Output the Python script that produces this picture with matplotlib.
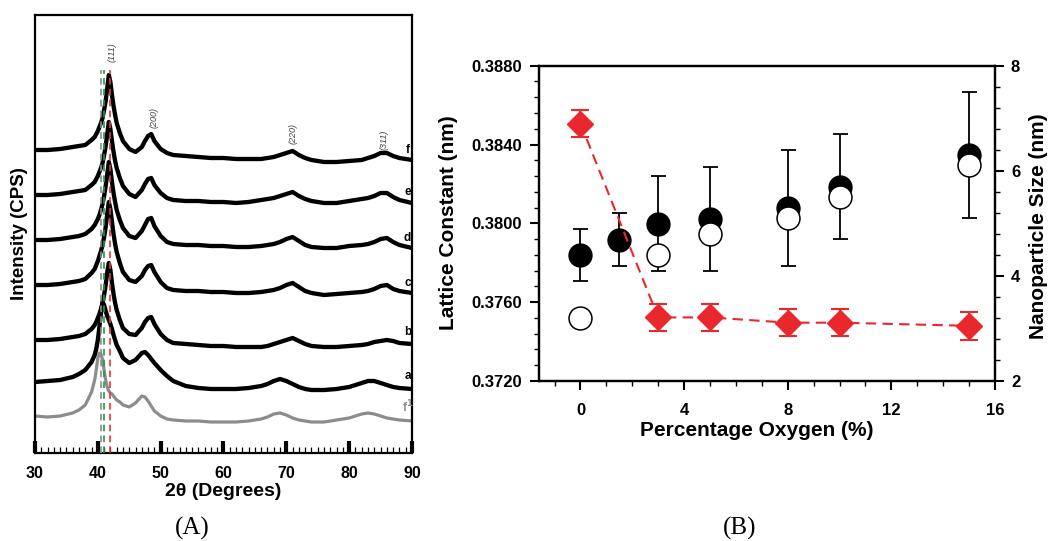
import matplotlib.pyplot as plt
from matplotlib.ticker import MultipleLocator, FormatStrFormatter

plt.rcParams['font.family'] = ['Liberation Sans', 'DejaVu Sans']
plt.rcParams['font.weight'] = 'bold'

# ---------------- XRD patterns (panel A) ----------------
two_theta = [30, 32, 34, 36, 37, 38, 39, 39.5, 39.75, 40, 40.25, 40.5, 40.75, 41, 41.25,
             41.5, 41.75, 42, 42.25, 42.5, 42.75, 43, 43.5, 44, 45, 46, 47, 47.5, 48, 48.5,
             49, 50, 51, 52, 54, 56, 58, 60, 62, 64, 66, 67, 68, 69, 70, 71, 72, 73, 74,
             76, 78, 80, 82, 83, 84, 85, 86, 87, 88, 90]

xrd_f = [303, 303, 304, 306, 307, 308, 313, 316, 319, 322, 326, 330, 335, 343, 352,
         365, 378, 371, 358, 347, 338, 330, 320, 312, 304, 301, 306, 312, 317, 319,
         312, 304, 300, 298, 297, 296, 295, 295, 294, 294, 294, 295, 296, 298, 300,
         302, 298, 295, 293, 291, 291, 292, 293, 295, 297, 300, 300, 297, 295, 293]
xrd_e = [258, 258, 259, 261, 262, 263, 268, 271, 274, 277, 281, 285, 290, 298, 307,
         319, 331, 324, 312, 301, 292, 285, 275, 267, 259, 256, 263, 269, 274, 275,
         268, 260, 255, 253, 252, 252, 251, 251, 250, 251, 253, 254, 255, 257, 259,
         261, 257, 254, 252, 250, 250, 252, 254, 255, 257, 260, 260, 256, 253, 250]
xrd_d = [213, 213, 214, 216, 217, 219, 224, 228, 231, 234, 238, 243, 249, 257, 267,
         279, 291, 284, 271, 260, 251, 243, 233, 225, 217, 215, 222, 228, 234, 235,
         227, 217, 211, 209, 208, 208, 207, 207, 206, 206, 207, 208, 209, 211, 214,
         216, 212, 208, 206, 205, 205, 207, 208, 209, 211, 214, 215, 211, 208, 205]
xrd_c = [168, 168, 169, 171, 172, 174, 180, 184, 188, 192, 197, 202, 208, 216, 226,
         239, 251, 244, 231, 219, 209, 201, 190, 181, 173, 171, 177, 183, 187, 188,
         181, 171, 165, 163, 162, 162, 161, 161, 160, 160, 161, 162, 163, 165, 168,
         170, 166, 162, 160, 158, 159, 160, 161, 162, 164, 167, 168, 164, 162, 160]
xrd_b = [113, 113, 114, 116, 117, 119, 124, 128, 131, 135, 139, 144, 150, 158, 168,
         181, 190, 183, 170, 159, 150, 143, 133, 125, 119, 118, 125, 131, 135, 136,
         129, 119, 113, 110, 109, 108, 107, 107, 106, 106, 106, 107, 109, 111, 113,
         115, 112, 109, 107, 106, 106, 107, 108, 109, 111, 112, 113, 112, 110, 109]
xrd_a = [71, 72, 73, 76, 79, 83, 91, 98, 104, 113, 126, 140, 151, 148, 142,
         137, 133, 129, 124, 118, 113, 108, 102, 95, 90, 93, 100, 101, 98, 94,
         90, 83, 77, 72, 67, 65, 64, 64, 64, 65, 67, 69, 72, 74, 72,
         69, 66, 64, 63, 63, 64, 66, 70, 72, 72, 70, 68, 66, 65, 64]
xrd_f1 = [37, 36, 37, 40, 43, 48, 61, 73, 83, 95, 100, 99, 93, 83, 73,
          66, 62, 60, 59, 57, 55, 53, 51, 48, 46, 50, 57, 56, 52, 47,
          42, 37, 34, 33, 32, 32, 31, 31, 31, 32, 34, 36, 39, 40, 38,
          35, 33, 32, 31, 31, 33, 35, 39, 40, 39, 37, 35, 34, 33, 32]

curve_names = ['a', 'b', 'c', 'd', 'e', 'f']
curve_label_y = [77, 121, 170, 215, 261, 303]

peak_names = ['(111)', '(200)', '(220)', '(311)']
peak_pos = [42.2, 48.9, 71.0, 85.6]
peak_y = [401, 335, 320, 313]

ref_pos = [40.55, 41.0, 41.9]
ref_colors = ['#8c8c8c', '#1f9a45', '#e8333a']

# ---------------- Lattice constant / size (panel B) ----------------
oxygen = [0, 1.5, 3, 5, 8, 10, 15]
lattice = [0.37839, 0.37917, 0.37999, 0.38023, 0.38077, 0.38186, 0.38345]
lattice_err = [0.0013, 0.00135, 0.0024, 0.00265, 0.00295, 0.00267, 0.0032]

oxygen_open = [0, 3, 5, 8, 10, 15]
lattice_open = [0.37518, 0.37839, 0.37944, 0.38025, 0.38135, 0.38296]

oxygen_size = [0, 3, 5, 8, 10, 15]
size_nm = [6.90, 3.21, 3.21, 3.11, 3.11, 3.05]
size_err = [0.26, 0.26, 0.26, 0.26, 0.26, 0.265]

red = '#e8282c'

fig = plt.figure(figsize=(10.52, 5.41), dpi=100)

# Panel A
ax1 = fig.add_axes([35 / 1052, 1 - 453 / 541, 377 / 1052, 438 / 541])
for x, c in zip(ref_pos, ref_colors):
    ax1.plot([x, x], [0, 383], color=c, lw=1.2, ls=(0, (4, 2.5)), zorder=3)
ax1.plot(two_theta, xrd_f1, color='#8c8c8c', lw=2.3, zorder=2)
for ys in [xrd_a, xrd_b, xrd_c, xrd_d, xrd_e, xrd_f]:
    ax1.plot(two_theta, ys, color='black', lw=3.1, zorder=2, solid_joinstyle='round')

for name, y in zip(curve_names, curve_label_y):
    ax1.text(89.3, y, name, fontsize=8.5, fontweight='bold', ha='center', va='center')
ax1.text(89.3, 46, 'f$^1$', fontsize=8.5, fontweight='bold', color='#8c8c8c',
         ha='center', va='center')

for name, x, y in zip(peak_names, peak_pos, peak_y):
    ax1.text(x, y, name, fontsize=6.5, fontweight='normal', fontstyle='italic',
             color='#444444', rotation=90, ha='center', va='center')

ax1.set_xlim(30, 90)
ax1.set_ylim(0, 438)
ax1.set_yticks([])
ax1.xaxis.set_major_locator(MultipleLocator(10))
ax1.xaxis.set_minor_locator(MultipleLocator(1))
ax1.tick_params(axis='x', which='major', direction='in', length=8.5, width=3,
                labelsize=11.5, pad=9)
ax1.tick_params(axis='x', which='minor', direction='in', length=4.5, width=0.9)
for s in ax1.spines.values():
    s.set_linewidth(1.6)

fig.text(20 / 1052, 1 - 234 / 541, 'Intensity (CPS)', rotation=90, fontsize=13.5,
         fontweight='bold', ha='center', va='center')
fig.text(223 / 1052, 1 - 492 / 541, '2\u03b8 (Degrees)', fontsize=14,
         fontweight='bold', ha='center', va='center')
fig.text(192 / 1052, 1 - 528 / 541, '(A)', fontsize=18, fontweight='normal',
         family='Liberation Serif', ha='center', va='center')

# Panel B
ax = fig.add_axes([539 / 1052, 1 - 381 / 541, 456 / 1052, 315.3 / 541])
ax.errorbar(oxygen, lattice, yerr=lattice_err, fmt='o', color='black', ms=16.5,
            ecolor='black', elinewidth=1.3, capsize=5.4, capthick=1.3, zorder=3)
ax.plot(oxygen_open, lattice_open, 'o', ms=16.5, mfc='white', mec='black',
        mew=1.1, zorder=4)
ax.set_xlim(-1.6, 16)
ax.set_ylim(0.372, 0.388)
ax.xaxis.set_major_locator(MultipleLocator(4))
ax.xaxis.set_minor_locator(MultipleLocator(1))
ax.yaxis.set_major_locator(MultipleLocator(0.004))
ax.yaxis.set_minor_locator(MultipleLocator(0.0008))
ax.yaxis.set_major_formatter(FormatStrFormatter('%.4f'))
ax.tick_params(which='major', direction='out', length=6.5, width=1.5, labelsize=12)
ax.tick_params(which='minor', direction='out', length=3.8, width=1)
ax.tick_params(axis='x', which='major', pad=9)
ax.tick_params(axis='y', which='major', pad=6)
for s in ax.spines.values():
    s.set_linewidth(1.6)

ax2 = ax.twinx()
ax2.errorbar(oxygen_size, size_nm, yerr=size_err, fmt='D', ls=(0, (5, 3)), lw=1.5,
             color=red, ms=13.5, ecolor=red, elinewidth=1.5, capsize=6.4, capthick=1.5)
ax2.set_ylim(2, 8)
ax2.yaxis.set_major_locator(MultipleLocator(2))
ax2.yaxis.set_minor_locator(MultipleLocator(0.4))
ax2.tick_params(which='major', direction='out', length=6.5, width=1.5, labelsize=12, pad=5)
ax2.tick_params(which='minor', direction='out', length=3.8, width=1)
for s in ax2.spines.values():
    s.set_linewidth(1.6)

fig.text(449 / 1052, 1 - 223 / 541, 'Lattice Constant (nm)', rotation=90, fontsize=15,
         fontweight='bold', ha='center', va='center')
fig.text(1039 / 1052, 1 - 226 / 541, 'Nanoparticle Size (nm)', rotation=90, fontsize=15,
         fontweight='bold', ha='center', va='center')
fig.text(757 / 1052, 1 - 431 / 541, 'Percentage Oxygen (%)', fontsize=15,
         fontweight='bold', ha='center', va='center')
fig.text(740 / 1052, 1 - 528 / 541, '(B)', fontsize=18, fontweight='normal',
         family='Liberation Serif', ha='center', va='center')

fig.savefig('out.png', dpi=100)
